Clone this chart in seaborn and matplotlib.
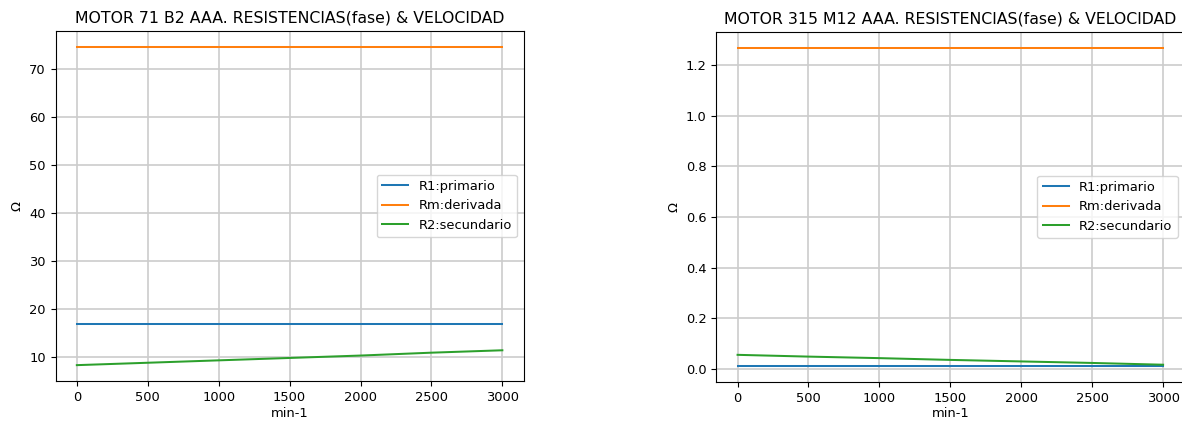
import matplotlib
matplotlib.use("Agg")
import matplotlib.pyplot as plt
import pandas as pd
import seaborn as sns

# velocidad (min-1)
rpm = [0, 500, 1000, 1500, 2000, 2500, 3000]

# MOTOR 71 B2 AAA
m71_r1 = [16.7, 16.7, 16.7, 16.7, 16.7, 16.7, 16.7]
m71_rm = [74.6, 74.6, 74.6, 74.6, 74.6, 74.6, 74.6]
m71_r2 = [8.2, 8.7, 9.2, 9.7, 10.2, 10.8, 11.3]

# MOTOR 315 M12 AAA
m315_r1 = [0.012, 0.012, 0.012, 0.012, 0.012, 0.012, 0.012]
m315_rm = [1.268, 1.268, 1.268, 1.268, 1.268, 1.268, 1.268]
m315_r2 = [0.056, 0.049, 0.043, 0.036, 0.030, 0.024, 0.017]

labels = ["R1:primario", "Rm:derivada", "R2:secundario"]
colors = ["#1f77b4", "#ff7f0e", "#2ca02c"]

titles = [
    "MOTOR 71 B2 AAA. RESISTENCIAS(fase) & VELOCIDAD",
    "MOTOR 315 M12 AAA. RESISTENCIAS(fase) & VELOCIDAD",
]
series = [
    [m71_r1, m71_rm, m71_r2],
    [m315_r1, m315_rm, m315_r2],
]

plt.rcParams.update({
    "font.size": 9.4,
    "axes.titlesize": 11.3,
    "axes.labelsize": 9.4,
    "xtick.labelsize": 9.4,
    "ytick.labelsize": 9.4,
    "legend.fontsize": 9.4,
    "lines.linewidth": 1.45,
})

fig = plt.figure(figsize=(11.82, 4.22), dpi=100)
axes = [
    fig.add_axes([0.047, 0.097, 0.396, 0.83]),
    fig.add_axes([0.606, 0.095, 0.396, 0.83]),
]

for ax, title, motor in zip(axes, titles, series):
    for vals, lab, col in zip(motor, labels, colors):
        df = pd.DataFrame({"min-1": rpm, "R": vals})
        sns.lineplot(data=df, x="min-1", y="R", ax=ax, color=col, label=lab)
    ax.set_title(title)
    ax.set_xlabel("min-1", labelpad=2)
    ax.set_ylabel("Ω")
    ax.set_xticks([0, 500, 1000, 1500, 2000, 2500, 3000])
    ax.grid(True, color="#cccccc", linewidth=1.2)
    ax.legend(loc="center right")

fig.savefig("out.png", dpi=100)
